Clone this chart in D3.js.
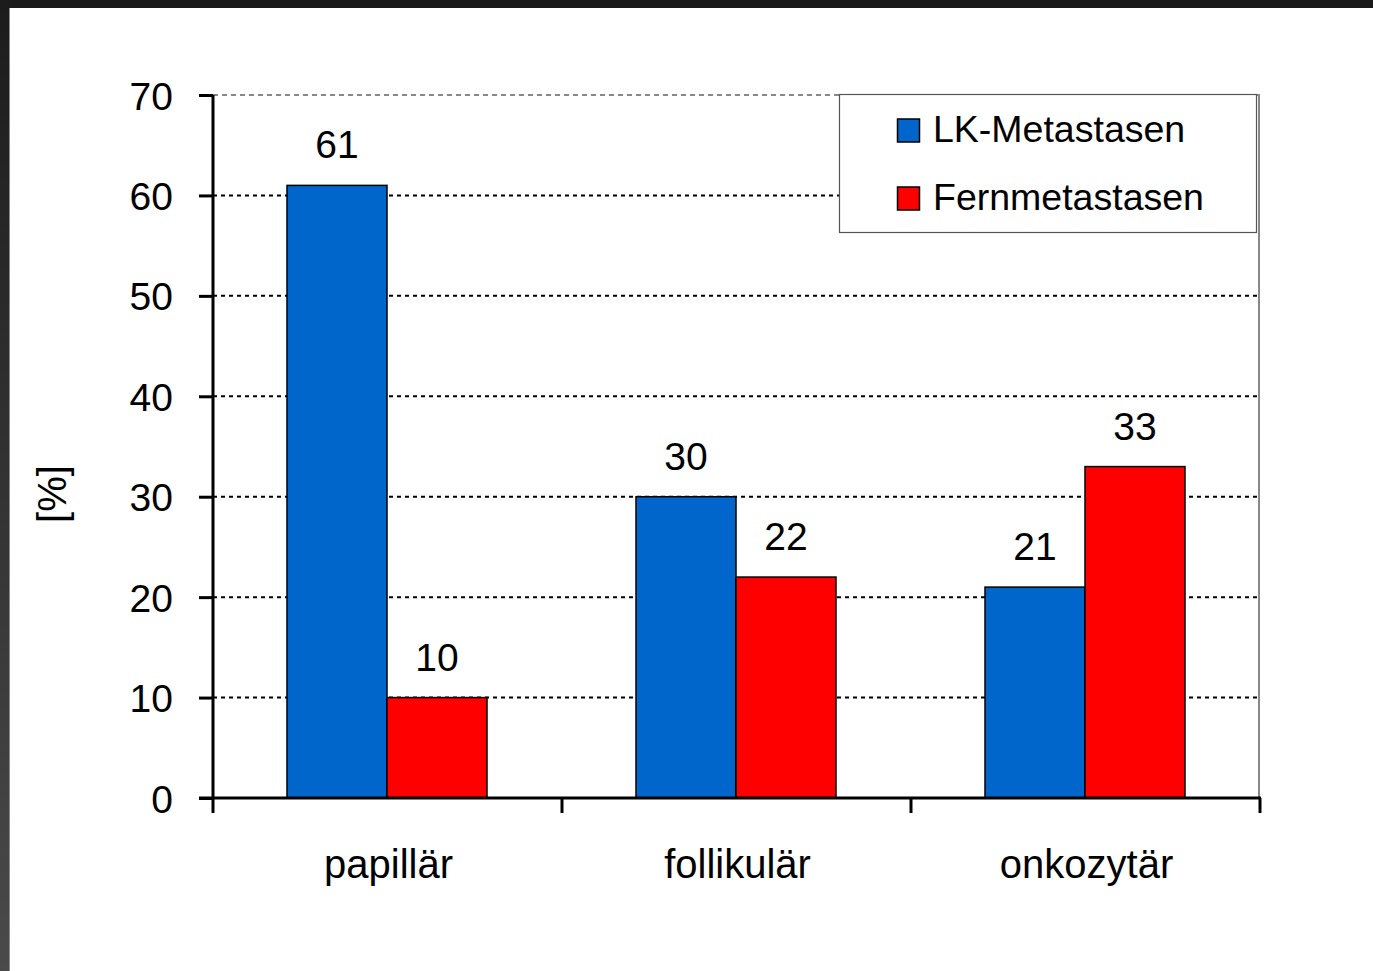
<!DOCTYPE html>
<html><head><meta charset="utf-8">
<script src="https://cdn.jsdelivr.net/npm/d3@7"></script>
<style>
html,body{margin:0;padding:0;background:#fff;}
svg{display:block;font-family:"Liberation Sans",Arial,Helvetica,sans-serif;}
</style></head>
<body>
<svg id="c" width="1373" height="971"></svg>
<script>
const categories = ["papillär", "follikulär", "onkozytär"];
const seriesNames = ["LK-Metastasen", "Fernmetastasen"];
const lkValues = [61, 30, 21];
const fernValues = [10, 22, 33];
const yTicks = [0, 10, 20, 30, 40, 50, 60, 70];
const colors = ["#0066CC", "#FF0000"];
const yLabel = "[%]";

(function(){
const svg = d3.select("#c");
const defs = svg.append("defs");
const grad = defs.append("linearGradient").attr("id","lg").attr("x1",0).attr("y1",0).attr("x2",0).attr("y2",1);
grad.append("stop").attr("offset","0%").attr("stop-color","#1c1c1c");
grad.append("stop").attr("offset","100%").attr("stop-color","#4a4a4a");
svg.append("rect").attr("x",0).attr("y",0).attr("width",1373).attr("height",971).attr("fill","#fff");
svg.append("rect").attr("x",0).attr("y",0).attr("width",1373).attr("height",8).attr("fill","#1a1a1a");
svg.append("rect").attr("x",0).attr("y",0).attr("width",9).attr("height",971).attr("fill","url(#lg)");
svg.append("rect").attr("x",9).attr("y",8).attr("width",1).attr("height",963).attr("fill","#888");

const pL = 213, pR = 1260, pT = 95, pB = 798;
const x = d3.scaleBand().domain(categories).range([pL, pR]);
const inner = d3.scaleBand().domain(seriesNames).range([74, x.bandwidth() - 75]);
const y = d3.scaleLinear().domain([0, 70]).range([pB, pT]);

const g = svg.append("g");
g.selectAll("line.grid").data(yTicks.filter(t => t > 0 && t < 70)).join("line")
  .attr("x1", pL).attr("x2", pR)
  .attr("y1", d => y(d)).attr("y2", d => y(d))
  .attr("stroke", "#000").attr("stroke-width", 2).attr("stroke-dasharray", "4,4");
g.append("line").attr("x1", pL).attr("x2", pR).attr("y1", y(70)).attr("y2", y(70))
  .attr("stroke", "#888").attr("stroke-width", 2).attr("stroke-dasharray", "5,4");
g.append("line").attr("x1", pR-1).attr("x2", pR-1).attr("y1", y(70)).attr("y2", pB)
  .attr("stroke", "#888").attr("stroke-width", 2);

const data = categories.map((c, i) => ({cat: c, vals: [lkValues[i], fernValues[i]]}));
const grp = svg.append("g").selectAll("g").data(data).join("g")
  .attr("transform", d => `translate(${x(d.cat)},0)`);
grp.selectAll("rect").data(d => d.vals.map((v, j) => ({s: seriesNames[j], v, j}))).join("rect")
  .attr("x", d => inner(d.s)).attr("width", inner.bandwidth())
  .attr("y", d => y(d.v)).attr("height", d => y(0) - y(d.v))
  .attr("fill", d => colors[d.j]).attr("stroke", "#000").attr("stroke-width", 1.5);
grp.selectAll("text").data(d => d.vals.map((v, j) => ({s: seriesNames[j], v, j}))).join("text")
  .attr("x", d => inner(d.s) + inner.bandwidth()/2)
  .attr("y", d => y(d.v) - 27)
  .attr("text-anchor", "middle").attr("font-size", 39).attr("fill", "#000")
  .text(d => d.v);

const yAxis = d3.axisLeft(y).tickValues(yTicks).tickSize(14).tickPadding(26);
const ya = svg.append("g").attr("transform", `translate(${pL},0)`).call(yAxis);
ya.select(".domain").attr("stroke-width", 3).attr("d", `M0,${pT}V${pB}`);
ya.selectAll(".tick line").attr("stroke-width", 3);
ya.selectAll(".tick text").attr("font-size", 39).attr("font-family", "Liberation Sans, Arial, sans-serif").attr("fill","#000").attr("dy","0.36em");

const xa = svg.append("g").attr("transform", `translate(0,${pB})`);
xa.append("line").attr("x1", pL-14).attr("x2", pR+1).attr("y1", 0).attr("y2", 0)
  .attr("stroke", "#000").attr("stroke-width", 3);
const xt = [pL, ...categories.map(c => x(c) + x.bandwidth())];
xa.selectAll("line.t").data(xt).join("line").attr("class","t")
  .attr("x1", d => d).attr("x2", d => d).attr("y1", 0).attr("y2", 15)
  .attr("stroke", "#000").attr("stroke-width", 3);
xa.selectAll("text").data(categories).join("text")
  .attr("x", d => x(d) + x.bandwidth()/2 + 1).attr("y", 80)
  .attr("text-anchor", "middle").attr("font-size", 40).attr("fill", "#000")
  .text(d => d);

svg.append("text").attr("transform", `translate(66,494) rotate(-90)`)
  .attr("text-anchor", "middle").attr("font-size", 40).attr("fill", "#000").text(yLabel);

const lg = svg.append("g");
lg.append("rect").attr("x", 839.5).attr("y", 94.5).attr("width", 417).attr("height", 138)
  .attr("fill", "#fff").attr("stroke", "#555").attr("stroke-width", 1.2);
seriesNames.forEach((s, i) => {
  const base = 142 + i * 68;
  lg.append("rect").attr("x", 897.5).attr("y", base - 23).attr("width", 22).attr("height", 23)
    .attr("fill", colors[i]).attr("stroke", "#000").attr("stroke-width", 1.5);
  lg.append("text").attr("x", 933).attr("y", base).attr("font-size", 37.5).attr("fill", "#000").text(s);
});
})();
</script>
</body></html>
